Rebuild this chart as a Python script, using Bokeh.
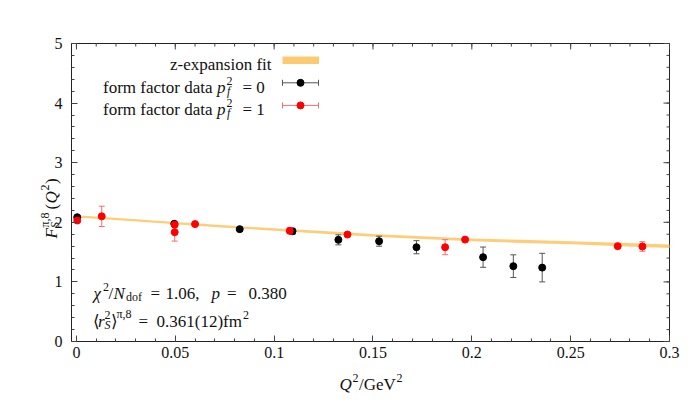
import numpy as np
from bokeh.plotting import figure
from bokeh.models import Label, Range1d, FixedTicker
from bokeh.embed import file_html
from bokeh.resources import INLINE

# ---------------- data ----------------
q2_p0 = [0.0004, 0.0495, 0.0826, 0.1093, 0.1325, 0.1531, 0.1720, 0.2057, 0.2210, 0.2356]
ff_p0 = [2.085, 1.975, 1.885, 1.850, 1.706, 1.683, 1.582, 1.415, 1.264, 1.240]
err_p0 = [0.02, 0.03, 0.02, 0.05, 0.084, 0.084, 0.11, 0.17, 0.19, 0.24]

q2_p1 = [0.0004, 0.0128, 0.0497, 0.0497, 0.0600, 0.1079, 0.1371, 0.1865, 0.1966, 0.2738, 0.2863]
ff_p1 = [2.030, 2.100, 1.960, 1.835, 1.970, 1.857, 1.795, 1.582, 1.710, 1.600, 1.594]
err_p1 = [0.03, 0.17, 0.03, 0.15, 0.02, 0.05, 0.02, 0.126, 0.02, 0.02, 0.08]

fit_q2 = [0.0, 0.025, 0.05, 0.075, 0.1, 0.125, 0.15, 0.175, 0.2, 0.225, 0.25, 0.275, 0.3]
fit_central = [2.100, 2.045, 1.985, 1.930, 1.880, 1.830, 1.780, 1.742, 1.705, 1.680, 1.657, 1.628, 1.598]
fit_halfwidth = [0.018, 0.018, 0.019, 0.020, 0.021, 0.022, 0.023, 0.024, 0.025, 0.026, 0.027, 0.028, 0.029]

xticks = [0, 0.05, 0.1, 0.15, 0.2, 0.25, 0.3]
xtick_labels = ["0", "0.05", "0.1", "0.15", "0.2", "0.25", "0.3"]
yticks = [0, 1, 2, 3, 4, 5]
ytick_labels = ["0", "1", "2", "3", "4", "5"]

# ---------------- layout ----------------
XMIN, XMAX = -0.0025, 0.3
YMIN, YMAX = 0.0, 5.0
BW, BH = 598, 298          # size of the framed plot box in px
BL, BT = 71, 43            # box left / top on the canvas (px)
CW, CH = 685, 408          # canvas size
FONT = "Liberation Serif"
TXT = "#111111"
FS = 17                    # main text size
SS = 12                    # script size


def dx(px):
    return XMIN + (px - BL) * (XMAX - XMIN) / BW


def dy(py):
    return YMAX - (py - BT) * (YMAX - YMIN) / BH


# the frame spans the whole canvas so that axis titles (drawn as labels) are not clipped;
# the axes are pinned to the edges of the plot box with fixed_location
p = figure(frame_width=CW, frame_height=CH,
           x_range=Range1d(dx(0), dx(CW)), y_range=Range1d(dy(CH), dy(0)),
           output_backend="svg", toolbar_location=None,
           min_border_left=0, min_border_top=0, min_border_right=0, min_border_bottom=0)
p.grid.visible = False
p.outline_line_color = None
p.background_fill_color = "white"
p.border_fill_color = "white"

x_minor = [round(v, 3) for v in np.arange(0, 0.3001, 0.01)]
y_minor = [round(v, 2) for v in np.arange(0, 5.001, 0.2)]
TICKC = "#444444"
MAJ, MIN = 6, 3


def style_axis(ax, ticks, minor, labels, loc):
    ax.fixed_location = loc
    ax.ticker = FixedTicker(ticks=ticks, minor_ticks=minor)
    ax.axis_line_color = None
    ax.major_tick_in = MAJ
    ax.major_tick_out = 0
    ax.minor_tick_in = MIN
    ax.minor_tick_out = 0
    ax.major_tick_line_color = TICKC
    ax.minor_tick_line_color = TICKC
    ax.major_label_text_font = FONT
    ax.major_label_text_color = TXT
    ax.major_label_text_font_size = "16px"
    ax.major_label_overrides = {t: l for t, l in zip(ticks, labels)}


style_axis(p.xaxis[0], xticks, x_minor, xtick_labels, YMIN)
p.xaxis[0].major_label_standoff = 5
style_axis(p.yaxis[0], yticks, y_minor, ytick_labels, XMIN)
p.yaxis[0].major_label_standoff = 9

# plot box border
p.quad(left=[XMIN], right=[XMAX], bottom=[YMIN], top=[YMAX],
       fill_color=None, line_color="#222222", line_width=1)

# mirrored ticks on the top and right border
ux = (XMAX - XMIN) / BW
uy = (YMAX - YMIN) / BH
p.segment(x0=xticks, y0=[YMAX] * len(xticks), x1=xticks, y1=[YMAX - MAJ * uy] * len(xticks),
          line_color=TICKC, line_width=1)
p.segment(x0=x_minor, y0=[YMAX] * len(x_minor), x1=x_minor, y1=[YMAX - MIN * uy] * len(x_minor),
          line_color=TICKC, line_width=1)
p.segment(x0=[XMAX] * len(yticks), y0=yticks, x1=[XMAX - MAJ * ux] * len(yticks), y1=yticks,
          line_color=TICKC, line_width=1)
p.segment(x0=[XMAX] * len(y_minor), y0=y_minor, x1=[XMAX - MIN * ux] * len(y_minor), y1=y_minor,
          line_color=TICKC, line_width=1)

# ---------------- fit band ----------------
fit_lo = [c - h for c, h in zip(fit_central, fit_halfwidth)]
fit_hi = [c + h for c, h in zip(fit_central, fit_halfwidth)]
BAND = "#fdca72"
p.varea(x=fit_q2, y1=fit_lo, y2=fit_hi, fill_color=BAND, fill_alpha=0.95)

# ---------------- error bars + points ----------------
CAP = 3.0 * ux   # half cap width (3 px)


def errbars(xs, ys, es, color):
    lo = [y - e for y, e in zip(ys, es)]
    hi = [y + e for y, e in zip(ys, es)]
    p.segment(x0=xs, y0=lo, x1=xs, y1=hi, line_color=color, line_width=1)
    p.segment(x0=[x - CAP for x in xs], y0=lo, x1=[x + CAP for x in xs], y1=lo,
              line_color=color, line_width=1)
    p.segment(x0=[x - CAP for x in xs], y0=hi, x1=[x + CAP for x in xs], y1=hi,
              line_color=color, line_width=1)


BLACK_BAR = "#555555"
RED_BAR = "#f07070"
errbars(q2_p0, ff_p0, err_p0, BLACK_BAR)
p.scatter(q2_p0, ff_p0, size=7, fill_color="black", line_color="black")
errbars(q2_p1, ff_p1, err_p1, RED_BAR)
p.scatter(q2_p1, ff_p1, size=7, fill_color="#ff0000", line_color="#ff0000")


# ---------------- text helper ----------------
def lbl(text, px, py, size=FS, italic=False, align="left", angle=0.0):
    p.add_layout(Label(x=dx(px), y=dy(py), text=text, text_font=FONT,
                       text_font_size=f"{size}px",
                       text_font_style="italic" if italic else "normal",
                       text_align=align, text_baseline="alphabetic",
                       text_color=TXT, angle=angle))


SUP, SUB = 6.5, 3.5

# ---------------- legend ----------------
lbl("z-expansion fit", 271, 64.3, align="right")
p.quad(left=dx(282), right=dx(318.5), bottom=dy(63.5), top=dy(56.0),
       fill_color=BAND, line_color=None)

for base, val, bar, dot in [(86.7, "0", BLACK_BAR, "black"), (109.3, "1", RED_BAR, "#ff0000")]:
    lbl("form factor data", 212, base, align="right")
    lbl("p", 216.5, base, italic=True)
    lbl("2", 226, base - SUP, size=SS)
    lbl("f", 226.5, base + SUB, size=SS, italic=True)
    lbl("= " + val, 242, base)
    yc = dy(base - 4.4)
    p.segment(x0=[dx(282)], y0=[yc], x1=[dx(318)], y1=[yc], line_color=bar, line_width=1)
    p.segment(x0=[dx(282), dx(318)], y0=[dy(base - 7.4)] * 2, x1=[dx(282), dx(318)],
              y1=[dy(base - 1.4)] * 2, line_color=bar, line_width=1)
    p.scatter([dx(300)], [yc], size=7, fill_color=dot, line_color=dot)

# ---------------- fit annotations ----------------
b1 = 292.5
lbl("\u03c7", 93, b1, italic=True)
lbl("2", 102.5, b1 - SUP, size=SS)
lbl("/", 108, b1)
lbl("N", 113, b1, italic=True)
lbl("dof", 125.5, b1 + SUB, size=SS)
lbl("=", 150, b1)
lbl("1.06,", 165, b1)
lbl("p", 211, b1, italic=True)
lbl("=", 226.5, b1)
lbl("0.380", 248, b1)

b2 = 321.0
lbl("\u27e8", 92, b2)
lbl("r", 97.5, b2, italic=True)
lbl("2", 104, b2 - SUP, size=SS)
lbl("S", 104, b2 + SUB, size=SS, italic=True)
lbl("\u27e9", 110.5, b2)
lbl("\u03c0,8", 116, b2 - 7.5, size=SS)
lbl("=", 138, b2)
lbl("0.361(12)fm", 156, b2)
lbl("2", 242.5, b2 - SUP, size=SS)

# ---------------- axis titles ----------------
bx = 384
lbl("Q", 339, bx, italic=True)
lbl("2", 352, bx - SUP, size=SS)
lbl("/GeV", 358.5, bx)
lbl("2", 396, bx - SUP, size=SS)

A = np.pi / 2
lbl("F", 50.5, 238, italic=True, angle=A)
lbl("\u03c0,8", 44, 227, size=SS, angle=A)
lbl("S", 54.5, 227.5, size=SS, italic=True, angle=A)
lbl("(", 50.5, 209, angle=A)
lbl("Q", 50.5, 203, italic=True, angle=A)
lbl("2", 44, 190, size=SS, angle=A)
lbl(")", 50.5, 183.5, angle=A)

open("out.html", "w").write(file_html(p, INLINE))
